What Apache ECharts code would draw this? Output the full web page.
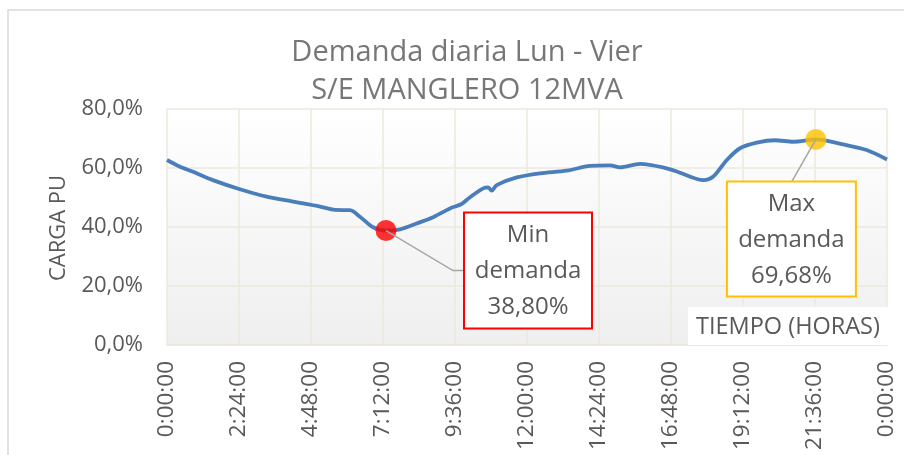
<!DOCTYPE html>
<html lang="es">
<head>
  <meta charset="UTF-8">
  <title>Demanda diaria Lun - Vier</title>
  <script src="https://cdn.jsdelivr.net/npm/echarts@6/dist/echarts.min.js"></script>
  <style>
    html, body { margin: 0; padding: 0; background: #fff; }
    #chart { width: 904px; height: 455px; }
  </style>
</head>
<body>
  <div id="chart"></div>
  <script>
    // load curve: hour of day and load (%)
    const hours = [0, 0.4, 0.87, 1.53, 2.43, 3.32, 4.2, 5.1, 5.6, 6.1, 6.43, 6.87, 7.3, 7.77, 8.32,
      8.87, 9.43, 9.82, 10.1, 10.54, 10.71, 10.82, 10.99, 11.66, 12.43, 13.32, 14.1, 14.77, 15.1,
      15.77, 16.66, 17.1, 17.88, 18.21, 18.66, 19.1, 19.66, 20.27, 20.88, 21.63, 22.54, 23.32, 24];
    const loadPct = [62.7, 60.6, 58.7, 55.9, 52.8, 50.3, 48.6, 46.9, 45.8, 45.7, 43.5, 39.9, 38.8, 39.2, 41.2,
      43.3, 46.3, 47.8, 50.1, 53.1, 53.4, 52.3, 54.2, 56.8, 58.2, 59.1, 60.7, 60.9, 60.2,
      61.4, 59.9, 58.4, 55.9, 57.1, 62.7, 66.7, 68.6, 69.4, 68.9, 69.68, 68.0, 66.1, 62.9];

    const minPoint = [7.3, 38.80];
    const maxPoint = [21.63, 69.68];

    const xTickLabels = ['0:00:00', '2:24:00', '4:48:00', '7:12:00', '9:36:00', '12:00:00',
      '14:24:00', '16:48:00', '19:12:00', '21:36:00', '0:00:00'];

    const gridColor = '#ece8dc';
    const textColor = '#595959';
    const font = 'Open Sans';

    const toMin = h => h * 60;
    const pct = (v, d) => v.toFixed(d).replace('.', ',') + '%';

    const chart = echarts.init(document.getElementById('chart'));

    chart.setOption({
      animation: false,
      textStyle: { fontFamily: font },
      title: {
        text: 'Demanda diaria Lun - Vier\nS/E MANGLERO 12MVA',
        left: 462,
        top: 29,
        textAlign: 'center',
        textStyle: { fontFamily: font, fontSize: 29, fontWeight: 'normal', color: '#777777', lineHeight: 38 }
      },
      grid: {
        left: 167, right: 17, top: 109, bottom: 110,
        show: true,
        borderWidth: 0,
        backgroundColor: new echarts.graphic.LinearGradient(0, 0, 0, 1, [
          { offset: 0, color: '#ffffff' },
          { offset: 1, color: '#efefef' }
        ])
      },
      xAxis: {
        type: 'value',
        min: 0, max: 1440, interval: 144,
        axisLine: { show: true, lineStyle: { color: gridColor, width: 1.5 } },
        axisTick: { show: false },
        splitLine: { show: true, lineStyle: { color: gridColor, width: 1.5 } },
        axisLabel: {
          rotate: 90,
          margin: 16,
          fontSize: 22.5,
          color: textColor,
          fontFamily: font,
          formatter: v => xTickLabels[Math.round(v / 144)]
        }
      },
      yAxis: {
        type: 'value',
        min: 0, max: 80, interval: 20,
        axisLine: { show: false },
        axisTick: { show: false },
        splitLine: { show: true, lineStyle: { color: gridColor, width: 1.5 } },
        axisLabel: {
          margin: 24,
          fontSize: 22,
          color: textColor,
          fontFamily: font,
          formatter: v => pct(v, 1)
        }
      },
      series: [
        {
          type: 'line',
          data: hours.map((h, i) => [toMin(h), loadPct[i]]),
          smooth: 0.3,
          showSymbol: false,
          lineStyle: { color: '#4a7ebb', width: 3.8 },
          z: 2
        },
        {
          type: 'scatter',
          symbolSize: 21,
          data: [
            { value: [toMin(minPoint[0]), minPoint[1]], itemStyle: { color: '#ff0000' } },
            { value: [toMin(maxPoint[0]), maxPoint[1]], itemStyle: { color: '#ffc000' } }
          ],
          z: 3
        }
      ]
    });

    // annotation call-outs placed next to the marked points
    const pMin = chart.convertToPixel({ seriesIndex: 0 }, [toMin(minPoint[0]), minPoint[1]]);
    const pMax = chart.convertToPixel({ seriesIndex: 0 }, [toMin(maxPoint[0]), maxPoint[1]]);

    function callout(p, dx, dy, w, h, elbow, color, label) {
      const bx = p[0] + dx, by = p[1] + dy;
      return [
        {
          type: 'polyline', z: 100,
          shape: { points: elbow.map(e => [p[0] + e[0], p[1] + e[1]]) },
          style: { stroke: '#a6a6a6', lineWidth: 1.5, fill: null }
        },
        {
          type: 'rect', z: 100,
          shape: { x: bx, y: by, width: w, height: h },
          style: { fill: '#ffffff', stroke: color, lineWidth: 2 }
        },
        {
          type: 'text', z: 101,
          x: bx + w / 2, y: by + h / 2 + 1,
          style: {
            text: label, fill: textColor, font: '24px "Open Sans"',
            align: 'center', verticalAlign: 'middle', lineHeight: 36
          }
        }
      ];
    }

    chart.setOption({
      graphic: [
        {
          type: 'rect', z: 0,
          shape: { x: 8, y: 10, width: 1000, height: 1000 },
          style: { fill: null, stroke: '#d9d9d9', lineWidth: 1.5 },
          silent: true
        },
        {
          type: 'text', z: 101,
          x: 59, y: 228, rotation: Math.PI / 2,
          style: { text: 'CARGA PU', fill: textColor, font: '22px "Open Sans"', align: 'center', verticalAlign: 'middle' }
        },
        ...callout(pMin, 78, -18, 128, 116, [[0, 0], [67, 40], [78, 40]], '#ff0000',
          'Min\ndemanda\n' + pct(minPoint[1], 2)),
        ...callout(pMax, -89, 42, 129, 115, [[0, 0], [-24, 42]], '#ffc000',
          'Max\ndemanda\n' + pct(maxPoint[1], 2)),
        {
          type: 'rect', z: 100,
          shape: { x: 688, y: 307, width: 216, height: 38 },
          style: { fill: '#ffffff' }
        },
        {
          type: 'text', z: 101,
          x: 696, y: 327,
          style: { text: 'TIEMPO (HORAS)', fill: textColor, font: '23.5px "Open Sans"', verticalAlign: 'middle' }
        }
      ]
    });
  </script>
</body>
</html>
